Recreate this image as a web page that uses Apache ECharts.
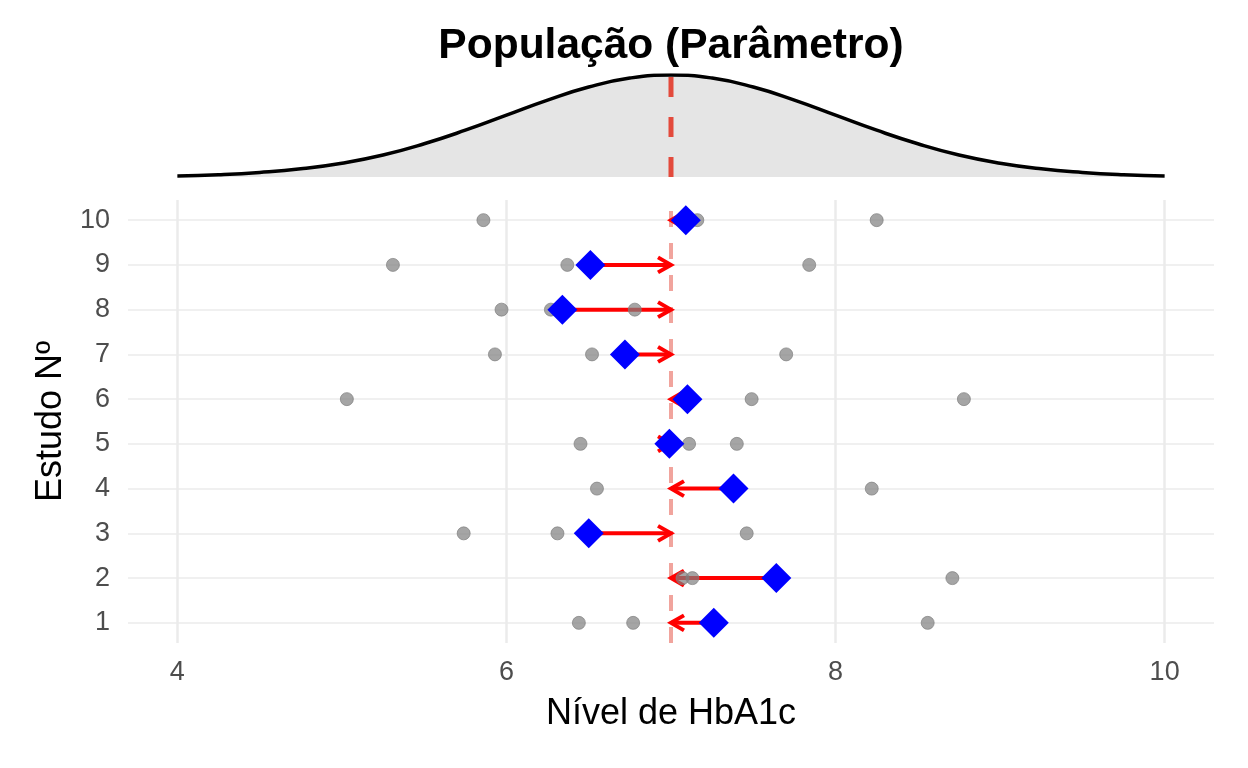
<!DOCTYPE html>
<html>
<head>
<meta charset="utf-8">
<title>População (Parâmetro)</title>
<script src="https://cdn.jsdelivr.net/npm/echarts@6/dist/echarts.min.js"></script>
<style>
	html, body { margin: 0; padding: 0; background: #ffffff; }
	#chart { width: 1248px; height: 768px; }
</style>
</head>
<body>
<div id="chart"></div>
<script>
// valores
const popMean = 7;
const studies = [1, 2, 3, 4, 5, 6, 7, 8, 9, 10];
const samples = [
	[6.44, 6.77, 8.56],
	[7.07, 7.13, 8.71],
	[5.74, 6.31, 7.46],
	[6.55, 7.37, 8.22],
	[6.45, 7.11, 7.40],
	[5.03, 7.49, 8.78],
	[5.93, 6.52, 7.70],
	[5.97, 6.27, 6.78],
	[5.31, 6.37, 7.84],
	[5.86, 7.16, 8.25]
];
const sampleMeans = [7.26, 7.64, 6.50, 7.38, 6.99, 7.10, 6.72, 6.34, 6.51, 7.09];

// curva da populacao (densidade), lida a cada 0.25
const densX = [4, 4.25, 4.5, 4.75, 5, 5.25, 5.5, 5.75, 6, 6.25, 6.5, 6.75, 7,
	7.25, 7.5, 7.75, 8, 8.25, 8.5, 8.75, 9, 9.25, 9.5, 9.75, 10];
const densY = [0.004, 0.009, 0.018, 0.032, 0.054, 0.086, 0.130, 0.183, 0.242, 0.301, 0.352, 0.387, 0.399,
	0.387, 0.352, 0.301, 0.242, 0.183, 0.130, 0.086, 0.054, 0.032, 0.018, 0.009, 0.004];
const densPeak = 0.399;

const xTicks = [4, 6, 8, 10];
const yMin = 0.55, yMax = 10.45;

const FONT = "'Liberation Sans', Arial, sans-serif";

const chart = echarts.init(document.getElementById('chart'), null, {renderer: 'canvas'});

const pointData = [];
studies.forEach((s, i) => samples[i].forEach(v => pointData.push([v, s])));
const meanData = studies.map((s, i) => [sampleMeans[i], s]);
const arrowData = studies.map((s, i) => [sampleMeans[i], s, popMean]);
const curveData = densX.map((x, i) => [x, densY[i]]);

// seta: linha + ponta aberta
const renderArrow = (params, api) => {
	const from = api.coord([api.value(0), api.value(1)]);
	const to = api.coord([api.value(2), api.value(1)]);
	const dir = to[0] >= from[0] ? 1 : -1;
	const len = 15, ang = Math.PI / 6;
	const hx = to[0] - dir * len * Math.cos(ang);
	const hy = len * Math.sin(ang);
	const st = {stroke: '#FF0000', lineWidth: 4, fill: null, lineCap: 'butt'};
	return {
		type: 'group',
		children: [
			{type: 'line', shape: {x1: from[0], y1: from[1], x2: to[0], y2: to[1]}, style: st},
			{type: 'polyline', shape: {points: [[hx, to[1] - hy], [to[0], to[1]], [hx, to[1] + hy]]}, style: st}
		]
	};
};

const option = {
	animation: false,
	backgroundColor: '#ffffff',
	graphic: [{
		type: 'text',
		x: 671,
		y: 25,
		style: {
			text: 'População (Parâmetro)',
			font: 'bold 42.5px ' + FONT,
			fill: '#000000',
			textAlign: 'center',
			textVerticalAlign: 'top'
		}
	}],
	grid: [
		{left: 128, right: 34, top: 75, height: 102, containLabel: false, outerBoundsMode: 'none'},
		{left: 128, right: 34, top: 200, bottom: 125, containLabel: false, outerBoundsMode: 'none'}
	],
	xAxis: [
		{
			gridIndex: 0, type: 'value', min: 3.7, max: 10.3,
			show: false
		},
		{
			gridIndex: 1, type: 'value', min: 3.7, max: 10.3,
			name: 'Nível de HbA1c',
			nameLocation: 'middle',
			nameGap: 53,
			nameTextStyle: {fontFamily: FONT, fontSize: 36, color: '#000000'},
			axisLine: {show: false},
			axisTick: {show: false, customValues: xTicks},
			axisLabel: {customValues: xTicks, fontFamily: FONT, fontSize: 27, color: '#4D4D4D', margin: 16},
			splitLine: {show: true, lineStyle: {color: '#EBEBEB', width: 2.5}}
		}
	],
	yAxis: [
		{
			gridIndex: 0, type: 'value', min: 0, max: densPeak,
			show: false
		},
		{
			gridIndex: 1, type: 'value', min: yMin, max: yMax,
			name: 'Estudo Nº',
			nameLocation: 'middle',
			nameRotate: 90,
			nameGap: 58,
			nameTextStyle: {fontFamily: FONT, fontSize: 36, color: '#000000'},
			axisLine: {show: false},
			axisTick: {show: false, customValues: studies},
			axisLabel: {customValues: studies, fontFamily: FONT, fontSize: 27, color: '#4D4D4D', margin: 18},
			splitLine: {show: true, lineStyle: {color: '#F0F0F0', width: 2}}
		}
	],
	series: [
		{
			name: 'populacao',
			type: 'line',
			xAxisIndex: 0, yAxisIndex: 0,
			data: curveData,
			smooth: true,
			showSymbol: false,
			lineStyle: {color: '#000000', width: 3.5},
			areaStyle: {color: '#E5E5E5', opacity: 1, origin: 'start'},
			z: 2
		},
		{
			name: 'media pop',
			type: 'line',
			xAxisIndex: 0, yAxisIndex: 0,
			data: [[popMean, 0], [popMean, densPeak]],
			showSymbol: false,
			lineStyle: {color: '#E34A3C', width: 5, type: [20, 20]},
			z: 3
		},
		{
			name: 'ref',
			type: 'line',
			xAxisIndex: 1, yAxisIndex: 1,
			data: [[popMean, yMin], [popMean, yMax]],
			showSymbol: false,
			lineStyle: {color: 'rgba(227,74,60,0.5)', width: 4, type: [16, 16]},
			z: 2
		},
		{
			name: 'setas',
			type: 'custom',
			xAxisIndex: 1, yAxisIndex: 1,
			data: arrowData,
			encode: {x: [0, 2], y: 1},
			renderItem: renderArrow,
			z: 3
		},
		{
			name: 'amostras',
			type: 'scatter',
			xAxisIndex: 1, yAxisIndex: 1,
			data: pointData,
			symbol: 'circle',
			symbolSize: 13,
			itemStyle: {color: 'rgba(127,127,127,0.7)', borderColor: 'rgba(127,127,127,0.7)', borderWidth: 1, opacity: 1},
			z: 4
		},
		{
			name: 'medias',
			type: 'scatter',
			xAxisIndex: 1, yAxisIndex: 1,
			data: meanData,
			symbol: 'diamond',
			symbolSize: 30,
			itemStyle: {color: '#0000FF', opacity: 1},
			z: 5
		}
	]
};

chart.setOption(option);
</script>
</body>
</html>
